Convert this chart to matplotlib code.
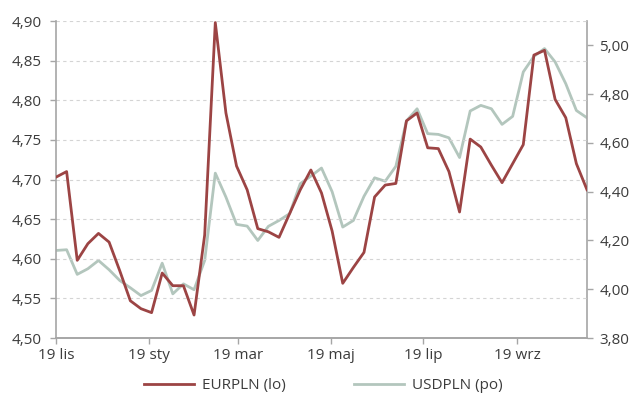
import matplotlib
matplotlib.use("Agg")
import matplotlib.pyplot as plt
from matplotlib.ticker import FuncFormatter
import numpy as np
import pandas as pd

# weekly quotes, Friday closes
dates = pd.date_range("2021-11-19", periods=51, freq="7D")

eurpln = [4.703, 4.710, 4.598, 4.619, 4.632, 4.621, 4.585, 4.547, 4.537, 4.532,
          4.582, 4.566, 4.566, 4.529, 4.630, 4.898, 4.784, 4.717, 4.687, 4.638,
          4.634, 4.627, 4.657, 4.687, 4.712, 4.683, 4.635, 4.569, 4.589, 4.608,
          4.678, 4.693, 4.695, 4.774, 4.784, 4.740, 4.739, 4.710, 4.659, 4.751,
          4.741, 4.718, 4.696, 4.720, 4.744, 4.857, 4.863, 4.801, 4.778, 4.720,
          4.687]

usdpln = [4.159, 4.162, 4.061, 4.084, 4.118, 4.080, 4.036, 4.006, 3.974, 3.995,
          4.107, 3.981, 4.022, 3.998, 4.118, 4.476, 4.378, 4.266, 4.259, 4.200,
          4.258, 4.282, 4.310, 4.433, 4.464, 4.497, 4.400, 4.255, 4.282, 4.381,
          4.457, 4.443, 4.504, 4.690, 4.740, 4.638, 4.635, 4.621, 4.540, 4.731,
          4.754, 4.740, 4.676, 4.709, 4.891, 4.955, 4.987, 4.932, 4.843, 4.733,
          4.703]

tick_dates = pd.to_datetime(["2021-11-19", "2022-01-19", "2022-03-19",
                             "2022-05-19", "2022-07-19", "2022-09-19"])
tick_labels = ["19 lis", "19 sty", "19 mar", "19 maj", "19 lip", "19 wrz"]

plt.rcParams["font.family"] = ["Open Sans", "DejaVu Sans"]
red = "#9c4444"
green = "#b3c6bd"
spine_c = "#a6a6a6"
txt_c = "#3c3c3c"

fig = plt.figure(figsize=(6.32, 3.94), dpi=100)
ax = fig.add_axes([0.0886, 0.1421, 0.8402, 0.8046])
ax2 = ax.twinx()

l1, = ax.plot(dates, eurpln, color=red, lw=2.0, label="EURPLN (lo)", zorder=3)
l2, = ax2.plot(dates, usdpln, color=green, lw=2.0, label="USDPLN (po)", zorder=2)
ax.set_zorder(ax2.get_zorder() + 1)
ax.patch.set_visible(False)

ax.set_xlim(dates[0], dates[-1])
ax.set_ylim(4.50, 4.90)
ax2.set_ylim(3.80, 5.10)

ax.set_yticks(np.arange(4.50, 4.901, 0.05))
ax2.set_yticks(np.arange(3.80, 5.001, 0.20))
comma = lambda fmt: FuncFormatter(lambda v, p: (fmt % v).replace(".", ","))
ax.yaxis.set_major_formatter(comma("%.2f"))
ax2.yaxis.set_major_formatter(comma("%.2f"))

ax.set_xticks(tick_dates)
ax.set_xticklabels(tick_labels)

for g in np.arange(4.55, 4.901, 0.05):
    ax.axhline(g, color="#d4d4d4", lw=0.8, ls=(0, (3, 3)), zorder=0)

for a in (ax, ax2):
    a.spines["top"].set_visible(False)
    for s in ("left", "right", "bottom"):
        a.spines[s].set_color(spine_c)
        a.spines[s].set_linewidth(1.2)
    a.tick_params(colors=spine_c, labelcolor=txt_c, labelsize=11, length=4, width=1)
ax.spines["right"].set_visible(False)
ax2.spines["left"].set_visible(False)
ax.tick_params(axis="y", pad=6)
ax2.tick_params(axis="y", pad=5)
ax.tick_params(axis="x", pad=3)

fig.legend(handles=[l1, l2], loc="lower center", ncol=2, frameon=False,
           bbox_to_anchor=(0.511, -0.032), fontsize=11, handlelength=3.3,
           handletextpad=0.5, columnspacing=4.45, labelcolor=txt_c)

fig.savefig("out.png", dpi=100)
